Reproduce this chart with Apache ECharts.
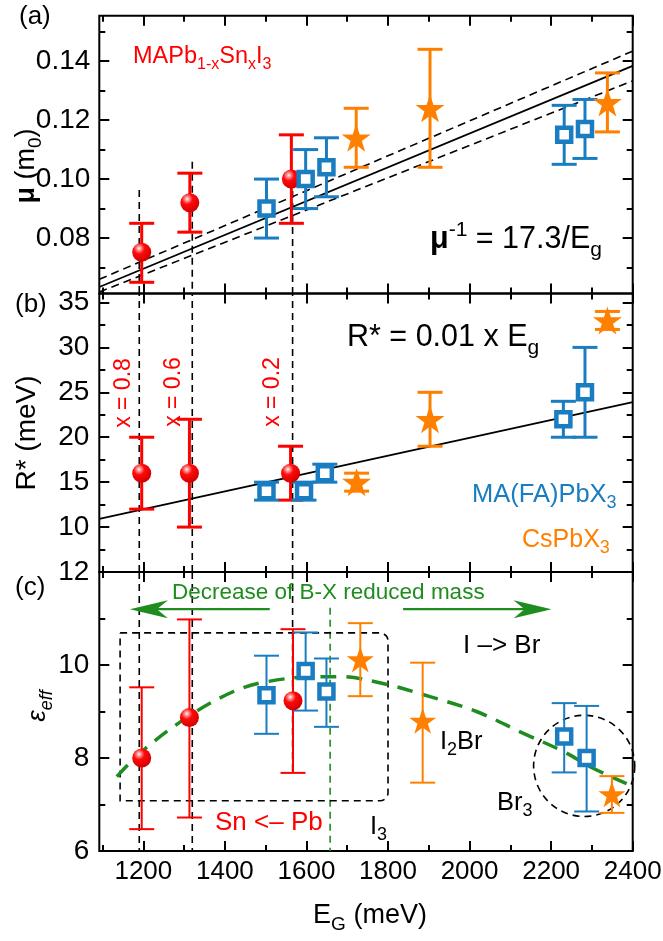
<!DOCTYPE html>
<html>
<head>
<meta charset="utf-8">
<script src="https://cdn.jsdelivr.net/npm/echarts@6/dist/echarts.min.js"></script>
<style>
  html, body { margin: 0; padding: 0; background: #fff; }
  #chart { width: 663px; height: 941px; }
</style>
</head>
<body>
<div id="chart"></div>
<script>
const FONT = '"Liberation Sans", Arial, sans-serif'
const RED = '#ff0000'
const BLUE = '#1a7cc1'
const ORANGE = '#ff8000'
const GREEN = '#1f8c1f'

// shared x axis (band gap, meV)
const xMin = 1092
const xMax = 2400
const xMajor = [1200, 1400, 1600, 1800, 2000, 2200, 2400]
const xMinor = [1100, 1300, 1500, 1700, 1900, 2100, 2300]

// panel (a): reduced mass
const muMin = 0.0612
const muMax = 0.1554
const muMajor = [0.08, 0.10, 0.12, 0.14]
const muMinor = [0.07, 0.09, 0.11, 0.13, 0.15]
const snX_a = [1196, 1314, 1563]
const snMu = [0.0752, 0.092, 0.100]
const snMuLo = [0.065, 0.082, 0.085]
const snMuHi = [0.085, 0.102, 0.115]
const maX_a = [1502, 1598, 1649, 2232, 2283]
const maMu = [0.090, 0.100, 0.104, 0.115, 0.117]
const maMuLo = [0.080, 0.090, 0.094, 0.105, 0.107]
const maMuHi = [0.100, 0.110, 0.114, 0.125, 0.127]
const csX_a = [1722, 1903, 2338]
const csMu = [0.114, 0.124, 0.126]
const csMuLo = [0.104, 0.104, 0.116]
const csMuHi = [0.124, 0.144, 0.136]
const fitX = [1092, 2400]
const fitMu = [0.0634, 0.1384]
const fitMuHi = [0.0660, 0.1434]
const fitMuLo = [0.0617, 0.1333]

// panel (b): R*
const rMin = 5
const rMax = 36
const rMajor = [10, 15, 20, 25, 30, 35]
const rMinor = [7.5, 12.5, 17.5, 22.5, 27.5, 32.5]
const snX_b = [1196, 1313, 1561]
const snR = [16, 16, 16]
const snRLo = [12, 10, 13]
const snRHi = [20, 22, 19]
const maX_b = [1502, 1594, 1645, 2230, 2283]
const maR = [14, 14, 16, 22, 25]
const maRLo = [13, 13, 15, 20, 20]
const maRHi = [15, 15, 17, 24, 30]
const csX_b = [1723, 1903, 2338]
const csR = [15, 22, 33]
const csRLo = [14, 19, 32]
const csRHi = [16, 25, 34]
const fitR = [10.9, 23.9]

// panel (c): effective dielectric constant
const eMin = 6
const eMax = 12
const eMajor = [6, 8, 10, 12]
const eMinor = [7, 9, 11]
const snX_c = [1196, 1313, 1567]
const snEps = [8.0, 8.87, 9.23]
const snEpsLo = [6.47, 6.72, 7.68]
const snEpsHi = [9.52, 10.98, 10.77]
const maX_c = [1502, 1598, 1649, 2232, 2287]
const maEps = [9.35, 9.87, 9.43, 8.46, 8.0]
const maEpsLo = [8.52, 9.02, 8.67, 7.69, 6.85]
const maEpsHi = [10.2, 10.7, 10.14, 9.18, 9.12]
const csX_c = [1732, 1885, 2349]
const csEps = [10.12, 8.8, 7.22]
const csEpsLo = [9.33, 7.47, 6.82]
const csEpsHi = [10.9, 10.05, 7.61]
const trendX = [1135, 1196, 1310, 1421, 1502, 1625, 1682, 1793, 1903, 2017, 2132, 2230, 2303, 2385]
const trendEps = [7.60, 8.14, 8.89, 9.43, 9.64, 9.75, 9.75, 9.59, 9.32, 9.00, 8.53, 8.14, 7.78, 7.45]

// guides
const guideX = [1190, 1320, 1566]
const guideTopMu = [0.0963, 0.1059, 0.100]
const guideEndEps = [6.0, 6.0, 7.7]
const greenGuide = [1658, 11.23, 6.0]
const boxI3 = [1143, 1800, 7.08, 10.69]   // x0, x1, y0, y1
const circleBr3 = [2281, 7.83, 124]        // cx, cy, radius in meV
const arrows = [[1510, 1167, 11.2], [1837, 2201, 11.2]]  // tail x, tip x, y

const chart = echarts.init(document.getElementById('chart'), null, { renderer: 'canvas' })

const gridBoxes = [
  { top: 15.7, height: 277.8 },
  { top: 293.5, height: 278.5 },
  { top: 572, height: 279 }
]
const grid = gridBoxes.map(g => ({
  left: 99.3, width: 533.4, top: g.top, height: g.height,
  show: true, borderColor: '#000', borderWidth: 2, backgroundColor: 'transparent',
  containLabel: false, outerBoundsMode: 'none'
}))

const tickStyle = { color: '#000', width: 2 }
const labelStyle = { color: '#000', fontFamily: FONT }

function axisSet(dimPos, g, min, max, major, minor, labelOpt) {
  const out = []
  dimPos.forEach((pos, k) => {
    const base = {
      type: 'value', gridIndex: g, position: pos, min, max,
      splitLine: { show: false }, axisLine: { show: false }
    }
    out.push({
      ...base,
      axisTick: { show: true, inside: true, length: 10, customValues: major, lineStyle: tickStyle },
      axisLabel: k === 0 && labelOpt ? { show: true, customValues: major, ...labelStyle, ...labelOpt } : { show: false }
    })
    out.push({
      ...base,
      axisTick: { show: true, inside: true, length: 6, customValues: minor, lineStyle: tickStyle },
      axisLabel: { show: false }
    })
  })
  return out
}

const xAxis = [
  ...axisSet(['bottom', 'top'], 0, xMin, xMax, xMajor, xMinor, null),
  ...axisSet(['bottom', 'top'], 1, xMin, xMax, xMajor, xMinor, null),
  ...axisSet(['bottom', 'top'], 2, xMin, xMax, xMajor, xMinor, { margin: 8, fontSize: 26, formatter: v => String(v) })
]
const yAxis = [
  ...axisSet(['left', 'right'], 0, muMin, muMax, muMajor, muMinor, { margin: 9, fontSize: 28, formatter: v => v.toFixed(2) }),
  ...axisSet(['left', 'right'], 1, rMin, rMax, rMajor, rMinor, { margin: 10, fontSize: 28, formatter: v => String(v) }),
  ...axisSet(['left', 'right'], 2, eMin, eMax, eMajor, eMinor, { margin: 10, fontSize: 28, formatter: v => String(v) })
]
// data axes for each panel are index 4*g
const ax = g => ({ xAxisIndex: 4 * g, yAxisIndex: 4 * g })

function zip(xs, ys) { return xs.map((x, i) => [x, ys[i]]) }

function errorBars(g, xs, lo, hi, color, width) {
  return {
    type: 'custom', ...ax(g), z: 3, silent: true,
    encode: { x: 0, y: [1, 2] },
    data: xs.map((x, i) => [x, lo[i], hi[i]]),
    renderItem: (params, api) => {
      const a = api.coord([api.value(0), api.value(2)])
      const b = api.coord([api.value(0), api.value(1)])
      const h = 12.5
      const st = { stroke: color, lineWidth: width }
      return {
        type: 'group', children: [
          { type: 'line', shape: { x1: a[0], y1: a[1], x2: b[0], y2: b[1] }, style: st },
          { type: 'line', shape: { x1: a[0] - h, y1: a[1], x2: a[0] + h, y2: a[1] }, style: st },
          { type: 'line', shape: { x1: b[0] - h, y1: b[1], x2: b[0] + h, y2: b[1] }, style: st }
        ]
      }
    }
  }
}

function vSegments(g, segs, color, width, dash) {
  return {
    type: 'custom', ...ax(g), z: 1, silent: true,
    encode: { x: 0, y: [1, 2] },
    data: segs,
    renderItem: (params, api) => {
      const a = api.coord([api.value(0), api.value(1)])
      const b = api.coord([api.value(0), api.value(2)])
      return { type: 'line', shape: { x1: a[0], y1: a[1], x2: b[0], y2: b[1] },
        style: { stroke: color, lineWidth: width, lineDash: dash } }
    }
  }
}

const sphere = {
  type: 'radial', x: 0.36, y: 0.3, r: 0.72,
  colorStops: [
    { offset: 0, color: '#ffffff' },
    { offset: 0.14, color: '#ff9a9a' },
    { offset: 0.4, color: '#ff0a0a' },
    { offset: 1, color: '#d00000' }
  ]
}
const STAR = 'path://M50,0 L61.8,35.1 L98.9,35.1 L68.9,56.7 L80.3,91.9 L50,70 L19.7,91.9 L31.1,56.7 L1.1,35.1 L38.2,35.1 Z'

function markers(g, xs, ys, kind, small) {
  const s = { type: 'scatter', ...ax(g), z: 5, silent: true, data: zip(xs, ys) }
  if (kind === 'sn') {
    s.symbol = 'circle'; s.symbolSize = 19
    s.itemStyle = { color: sphere, opacity: 1 }
  } else if (kind === 'ma') {
    s.symbol = 'rect'; s.symbolSize = 14
    s.itemStyle = { color: '#fff', borderColor: BLUE, borderWidth: 4.5, opacity: 1 }
  } else {
    s.symbol = STAR; s.symbolSize = small ? [27, 26] : [29, 28]
    s.itemStyle = { color: ORANGE, opacity: 1 }
  }
  return s
}

function lineS(g, xs, ys, width, dash, color) {
  return {
    type: 'line', ...ax(g), z: 2, silent: true, symbol: 'none',
    data: zip(xs, ys),
    lineStyle: { color: color || '#000', width, type: dash || 'solid' }
  }
}

const series = [
  // ---- panel (a)
  vSegments(0, guideX.map((x, i) => [x, guideTopMu[i], muMin]), '#000', 1.6, [7, 5]),
  lineS(0, fitX, fitMu, 1.8),
  lineS(0, fitX, fitMuHi, 1.6, [8, 5]),
  lineS(0, fitX, fitMuLo, 1.6, [8, 5]),
  errorBars(0, snX_a, snMuLo, snMuHi, RED, 3),
  errorBars(0, maX_a, maMuLo, maMuHi, BLUE, 3),
  errorBars(0, csX_a, csMuLo, csMuHi, ORANGE, 3),
  markers(0, snX_a, snMu, 'sn'),
  markers(0, maX_a, maMu, 'ma'),
  markers(0, csX_a, csMu, 'cs'),
  // ---- panel (b)
  vSegments(1, guideX.map(x => [x, rMin, rMax]), '#000', 1.6, [7, 5]),
  lineS(1, fitX, fitR, 1.8),
  errorBars(1, snX_b, snRLo, snRHi, RED, 3),
  errorBars(1, maX_b, maRLo, maRHi, BLUE, 3),
  errorBars(1, csX_b, csRLo, csRHi, ORANGE, 3),
  markers(1, snX_b, snR, 'sn'),
  markers(1, maX_b, maR, 'ma'),
  markers(1, csX_b, csR, 'cs'),
  // ---- panel (c)
  vSegments(2, guideX.map((x, i) => [x, eMax, guideEndEps[i]]), '#000', 1.6, [7, 5]),
  vSegments(2, [greenGuide], GREEN, 1.6, [7, 5]),
  {
    type: 'custom', ...ax(2), z: 1, silent: true,
    encode: { x: [0, 1], y: [2, 3] },
    data: [boxI3],
    renderItem: (params, api) => {
      const p0 = api.coord([api.value(0), api.value(3)])
      const p1 = api.coord([api.value(1), api.value(2)])
      return { type: 'rect', shape: { x: p0[0], y: p0[1], width: p1[0] - p0[0], height: p1[1] - p0[1], r: [0, 8, 8, 0] },
        style: { fill: 'none', stroke: '#000', lineWidth: 1.6, lineDash: [7, 5] } }
    }
  },
  {
    type: 'custom', ...ax(2), z: 1, silent: true,
    encode: { x: 0, y: 1 },
    data: [circleBr3],
    renderItem: (params, api) => {
      const c = api.coord([api.value(0), api.value(1)])
      const r = api.size([api.value(2), 0])[0]
      return { type: 'circle', shape: { cx: c[0], cy: c[1], r },
        style: { fill: 'none', stroke: '#000', lineWidth: 1.6, lineDash: [7, 5] } }
    }
  },
  {
    type: 'custom', ...ax(2), z: 4, silent: true,
    encode: { x: [0, 1], y: 2 },
    data: arrows,
    renderItem: (params, api) => {
      const t = api.coord([api.value(0), api.value(2)])
      const p = api.coord([api.value(1), api.value(2)])
      const d = Math.sign(t[0] - p[0])
      return {
        type: 'group', children: [
          { type: 'line', shape: { x1: t[0], y1: t[1], x2: p[0] + d * 26, y2: p[1] }, style: { stroke: GREEN, lineWidth: 2.2 } },
          { type: 'polygon', shape: { points: [[p[0], p[1]], [p[0] + d * 38, p[1] - 9], [p[0] + d * 27, p[1]], [p[0] + d * 38, p[1] + 9]] },
            style: { fill: GREEN } }
        ]
      }
    }
  },
  {
    type: 'line', ...ax(2), z: 2, silent: true, symbol: 'none', smooth: 0.35,
    data: zip(trendX, trendEps),
    lineStyle: { color: GREEN, width: 3.5, type: [16, 10] }
  },
  errorBars(2, snX_c, snEpsLo, snEpsHi, RED, 2),
  errorBars(2, maX_c, maEpsLo, maEpsHi, BLUE, 2),
  errorBars(2, csX_c, csEpsLo, csEpsHi, ORANGE, 2),
  markers(2, snX_c, snEps, 'sn'),
  markers(2, maX_c, maEps, 'ma'),
  markers(2, csX_c, csEps, 'cs', true)
]

// ---- text annotations
function txt(x, y, text, size, color, opt) {
  opt = opt || {}
  const base = { fontSize: size, fontFamily: FONT, fill: color, color }
  const ss = Math.round(size * 0.7)
  const rich = {
    n: { ...base },
    b: { ...base, fontWeight: 'bold' },
    i: { ...base, fontStyle: 'italic' },
    sub: { ...base, fontSize: ss, verticalAlign: 'bottom', lineHeight: ss },
    subi: { ...base, fontStyle: 'italic', fontSize: ss, verticalAlign: 'bottom', lineHeight: ss },
    sup: { ...base, fontSize: ss, verticalAlign: 'top', lineHeight: ss }
  }
  Object.keys(rich).forEach(k => { if (!rich[k].lineHeight) rich[k].lineHeight = Math.round(size * 1.35) })
  return {
    type: 'text', x, y, rotation: opt.rot || 0, z: 10, silent: true,
    style: {
      text, rich, fill: color, fontSize: size, fontFamily: FONT,
      align: opt.align || 'left', verticalAlign: 'middle',
      textAlign: opt.align || 'left', textVerticalAlign: 'middle'
    }
  }
}

const graphic = [
  txt(19, 17, '{n|(a)}', 26, '#000'),
  txt(15, 305, '{n|(b)}', 26, '#000'),
  txt(15, 588, '{n|(c)}', 26, '#000'),
  txt(27, 166, '{b|μ}{n| (m}{sub|0}{n|)}', 27, '#000', { rot: Math.PI / 2, align: 'center' }),
  txt(27, 433, '{n|R* (meV)}', 28, '#000', { rot: Math.PI / 2, align: 'center' }),
  txt(38, 706, '{i|ε}{subi|eff}', 26, '#000', { rot: Math.PI / 2, align: 'center' }),
  txt(370, 916, '{n|E}{sub|G}{n| (meV)}', 27, '#000', { align: 'center' }),
  txt(133, 57, '{n|MAPb}{sub|1-x}{n|Sn}{sub|x}{n|I}{sub|3}', 23.5, RED),
  txt(430, 240, '{b|μ}{sup|-1}{n| = 17.3/E}{sub|g}', 30.5, '#000'),
  txt(347, 338, '{n|R* = 0.01 x E}{sub|g}', 30.5, '#000'),
  txt(472, 495, '{n|MA(FA)PbX}{sub|3}', 25.5, BLUE),
  txt(522, 540, '{n|CsPbX}{sub|3}', 25, ORANGE),
  txt(124, 393, '{n|x = 0.8}', 23, RED, { rot: Math.PI / 2, align: 'center' }),
  txt(174, 392, '{n|x = 0.6}', 23, RED, { rot: Math.PI / 2, align: 'center' }),
  txt(273, 392, '{n|x = 0.2}', 23, RED, { rot: Math.PI / 2, align: 'center' }),
  txt(172, 593, '{n|Decrease of B-X reduced mass}', 22.5, GREEN),
  txt(463, 646, '{n|I –> Br}', 26, '#000'),
  txt(440, 742, '{n|I}{sub|2}{n|Br}', 25.5, '#000'),
  txt(497, 803, '{n|Br}{sub|3}', 25.5, '#000'),
  txt(370, 827, '{n|I}{sub|3}', 25.5, '#000'),
  txt(215, 823, '{n|Sn <– Pb}', 26, RED)
]

chart.setOption({
  animation: false,
  backgroundColor: '#fff',
  grid,
  xAxis,
  yAxis,
  series,
  graphic
})
</script>
</body>
</html>
